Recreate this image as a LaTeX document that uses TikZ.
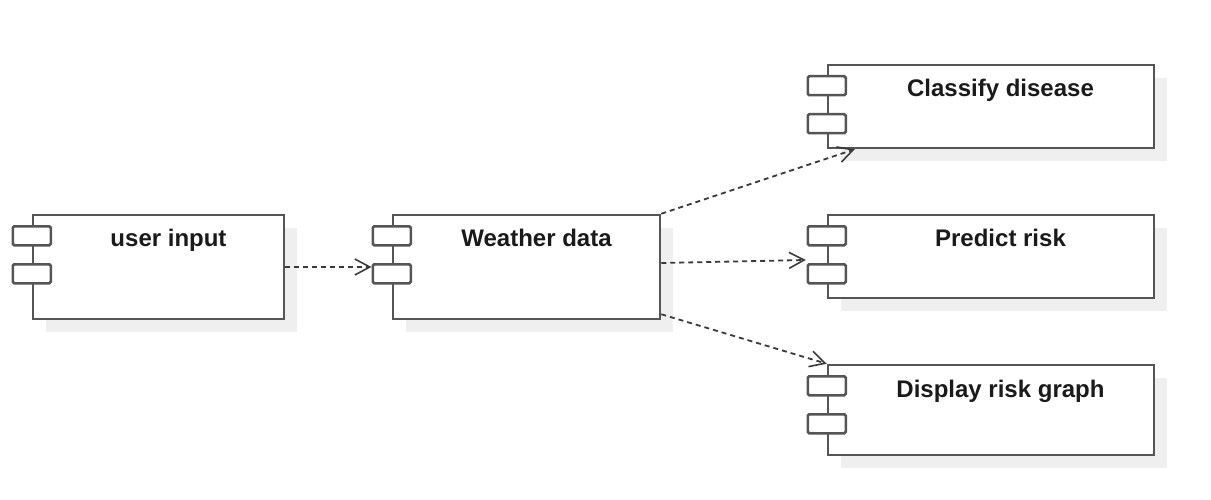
\documentclass[tikz,border=0pt]{standalone}
\usepackage{fontspec}
\setmainfont{Liberation Sans}
\usetikzlibrary{arrows.meta,shadows,calc}
\definecolor{edgegray}{HTML}{555555}
\definecolor{shadegray}{HTML}{EFEFEF}
\definecolor{depgray}{HTML}{3A3A3A}
\definecolor{txtcol}{HTML}{1A1A1A}
\begin{document}
\begin{tikzpicture}[x=1pt,y=-1pt,
  comp/.style={draw=edgegray, line width=2.5pt, fill=white, rectangle, inner sep=0pt,
    general shadow={fill=shadegray, shadow xshift=13pt, shadow yshift=-13pt}},
  portbox/.style={draw=edgegray, line width=2.5pt, fill=white, rectangle, inner sep=0pt,
    rounded corners=1.5pt, minimum width=38pt, minimum height=19pt},
  ctitle/.style={anchor=base, font=\bfseries\fontsize{24pt}{28pt}\selectfont, text=txtcol, inner sep=0pt},
  depline/.style={draw=depgray, line width=1.8pt, dash pattern=on 5pt off 4pt,
    -{Straight Barb[length=15pt,width=16pt,line width=1.6pt]}}]
\useasboundingbox (0,0) rectangle (1211,500);

% components
\node[comp, minimum width=251pt, minimum height=104pt] (ui) at (158.5,267) {};
\node[comp, minimum width=267pt, minimum height=104pt] (wd) at (526.5,267) {};
\node[comp, minimum width=326pt, minimum height=83pt] (cd) at (991,106.5) {};
\node[comp, minimum width=326pt, minimum height=83pt] (pr) at (991,256.5) {};
\node[comp, minimum width=326pt, minimum height=90pt] (dr) at (991,410) {};

% ports
\foreach \c in {ui,wd,cd,pr,dr}{
  \node[portbox] (\c p1) at ($(\c.north west)+(0,22)$) {};
  \node[portbox] (\c p2) at ($(\c.north west)+(0,60)$) {};
}

% titles
\node[ctitle] (uit) at (168.5,247) {user input};
\node[ctitle] (wdt) at (536.5,247) {Weather data};
\node[ctitle] (cdt) at (1000.5,97) {Classify disease};
\node[ctitle] (prt) at (1000.5,247) {Predict risk};
\node[ctitle] (drt) at (1000.5,397) {Display risk graph};

% dependencies
\draw[depline] (ui.east) -- (wdp2.west |- ui.east);
\draw[depline] (wd.north east) -- ($(cd.south west)+(28,0)$);
\draw[depline] ($(wd.east)+(0,-4)$) -- ($(pr.west)+(-21,3.5)$);
\draw[depline] ($(wd.south east)+(0,-6)$) -- (dr.north west);
\end{tikzpicture}
\end{document}
